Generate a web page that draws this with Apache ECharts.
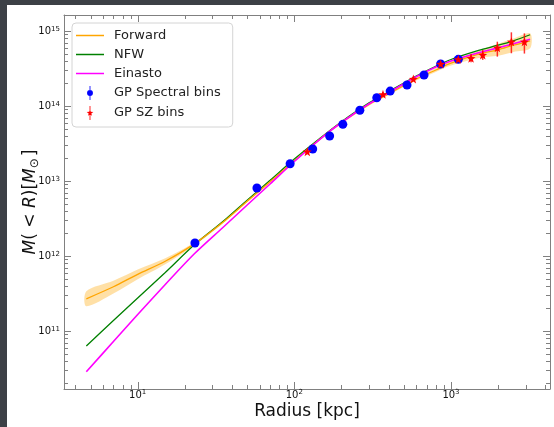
<!DOCTYPE html>
<html><head><meta charset="utf-8">
<script src="https://cdn.jsdelivr.net/npm/echarts@6/dist/echarts.min.js"></script>
<style>
html,body{margin:0;padding:0;background:#3c4046;width:554px;height:427px;overflow:hidden}
#c{position:absolute;left:7px;top:5px;width:547px;height:422px;background:#fff}
</style></head><body><div id="c"></div>
<script>
// ---- data (radius in kpc, mass in solar masses) ----
const RADII = [4.7, 7, 10, 15, 23, 35, 50, 70, 100, 150, 200, 300, 400, 600, 800, 1000, 1500, 2000, 2500, 3200];
const FORWARD = [2.69e11, 3.89e11, 5.70e11, 8.51e11, 1.45e12, 2.82e12, 5.37e12, 9.77e12, 1.86e13, 3.80e13, 6.03e13, 1.05e14, 1.45e14, 2.29e14, 3.02e14, 3.72e14, 4.90e14, 5.62e14, 6.46e14, 7.41e14];
const FORWARD_LO = [2.14e11, 3.16e11, 4.90e11, 7.76e11, 1.38e12, 2.72e12, 5.19e12, 9.44e12, 1.80e13, 3.67e13, 5.82e13, 1.01e14, 1.40e14, 2.19e14, 2.85e14, 3.47e14, 4.37e14, 4.68e14, 5.25e14, 5.89e14];
const FORWARD_HI = [3.39e11, 4.68e11, 6.61e11, 9.33e11, 1.51e12, 2.92e12, 5.56e12, 1.01e13, 1.93e13, 3.94e13, 6.24e13, 1.08e14, 1.50e14, 2.40e14, 3.20e14, 3.98e14, 5.50e14, 6.76e14, 7.94e14, 9.33e14];
const NFW = [6.31e10, 1.38e11, 2.75e11, 6.03e11, 1.41e12, 2.88e12, 5.56e12, 1.02e13, 1.96e13, 3.89e13, 6.17e13, 1.10e14, 1.55e14, 2.51e14, 3.39e14, 4.17e14, 5.50e14, 6.46e14, 7.41e14, 8.91e14];
const EINASTO = [2.86e10, 7.24e10, 1.66e11, 4.17e11, 1.07e12, 2.40e12, 4.79e12, 9.12e12, 1.82e13, 3.80e13, 6.03e13, 1.07e14, 1.51e14, 2.45e14, 3.31e14, 3.98e14, 5.13e14, 5.96e14, 6.76e14, 7.76e14];

const SPEC_R = [23.2, 57.7, 94, 131, 168, 204, 262, 336, 409, 524, 673, 859, 1114];
const SPEC_M = [1.49e12, 8.07e12, 1.70e13, 2.67e13, 3.98e13, 5.70e13, 8.77e13, 1.29e14, 1.58e14, 1.905e14, 2.59e14, 3.63e14, 4.19e14];
const SPEC_LO = [1.42e12, 7.7e12, 1.62e13, 2.55e13, 3.8e13, 5.45e13, 8.4e13, 1.23e14, 1.51e14, 1.82e14, 2.47e14, 3.46e14, 4.0e14];
const SPEC_HI = [1.56e12, 8.45e12, 1.78e13, 2.8e13, 4.17e13, 5.97e13, 9.15e13, 1.35e14, 1.65e14, 1.99e14, 2.71e14, 3.8e14, 4.39e14];

const SZ_R = [121, 368, 575, 859, 1114, 1343, 1595, 1977, 2430, 2943];
const SZ_M = [2.46e13, 1.43e14, 2.29e14, 3.63e14, 4.19e14, 4.33e14, 4.79e14, 5.99e14, 7.2e14, 7.2e14];
const SZ_LO = [2.29e13, 1.36e14, 2.18e14, 3.43e14, 3.91e14, 3.83e14, 4.12e14, 4.55e14, 5.05e14, 5.0e14];
const SZ_HI = [2.64e13, 1.51e14, 2.41e14, 3.85e14, 4.49e14, 4.89e14, 5.58e14, 7.2e14, 9.6e14, 9.3e14];

// ---- axes / ticks ----
const X_MIN = 3.385, X_MAX = 4287;
const Y_MIN = 1.686e10, Y_MAX = 1.634e15;
const X_MAJOR = [10, 100, 1000];
const X_MINOR = [4, 5, 6, 7, 8, 9, 20, 30, 40, 50, 60, 70, 80, 90, 200, 300, 400, 500, 600, 700, 800, 900, 2000, 3000, 4000];
const Y_MAJOR = [1e11, 1e12, 1e13, 1e14, 1e15];
const Y_MINOR = [2e10, 3e10, 4e10, 5e10, 6e10, 7e10, 8e10, 9e10,
  2e11, 3e11, 4e11, 5e11, 6e11, 7e11, 8e11, 9e11,
  2e12, 3e12, 4e12, 5e12, 6e12, 7e12, 8e12, 9e12,
  2e13, 3e13, 4e13, 5e13, 6e13, 7e13, 8e13, 9e13,
  2e14, 3e14, 4e14, 5e14, 6e14, 7e14, 8e14, 9e14];

const AX = '#808080';
const FONT = 'DejaVu Sans';

const STAR = 'path://M5,5 L6.176,8.382 L9.755,8.455 L6.902,10.618 L7.939,14.045 L5,12 L2.061,14.045 L3.098,10.618 L0.245,8.455 L3.824,8.382 Z';
const STAR_BAR = 'path://M5,5 L6.176,8.382 L9.755,8.455 L6.902,10.618 L7.939,14.045 L5,12 L2.061,14.045 L3.098,10.618 L0.245,8.455 L3.824,8.382 Z M4.4,0 L5.6,0 L5.6,20 L4.4,20 Z';
const CIRCLE_BAR = 'path://M0.8,10 A4.2,4.2 0 1,1 9.2,10 A4.2,4.2 0 1,1 0.8,10 Z M4.4,0 L5.6,0 L5.6,20 L4.4,20 Z';
const LINE_ICON = 'path://M0,0 L28,0 L28,1.5 L0,1.5 Z';

function powLabel(v) {
  const l = Math.log10(v), n = Math.round(l);
  if (Math.abs(l - n) > 1e-6) return '';
  return '{b|10}{s|' + n + '}';
}
const labelRich = {
  b: {fontSize: 10, fontFamily: FONT, color: '#111', lineHeight: 11, verticalAlign: 'bottom'},
  s: {fontSize: 7, fontFamily: FONT, color: '#111', lineHeight: 11, verticalAlign: 'top'}
};

const chart = echarts.init(document.getElementById('c'), null, {renderer: 'canvas'});

function xTick(params, api) {
  const cs = params.coordSys;
  const x = Math.round(api.coord([api.value(0), Y_MIN])[0]) + 0.5;
  const len = api.value(2) ? 7 : 4;
  const st = {stroke: AX, lineWidth: 1};
  return {type: 'group', children: [
    {type: 'line', shape: {x1: x, y1: cs.y + cs.height, x2: x, y2: cs.y + cs.height - len}, style: st},
    {type: 'line', shape: {x1: x, y1: cs.y, x2: x, y2: cs.y + len}, style: st}
  ]};
}
function yTick(params, api) {
  const cs = params.coordSys;
  const y = Math.round(api.coord([X_MIN, api.value(1)])[1]) + 0.5;
  const len = api.value(2) ? 7 : 4;
  const st = {stroke: AX, lineWidth: 1};
  return {type: 'group', children: [
    {type: 'line', shape: {x1: cs.x, y1: y, x2: cs.x + len, y2: y}, style: st},
    {type: 'line', shape: {x1: cs.x + cs.width, y1: y, x2: cs.x + cs.width - len, y2: y}, style: st}
  ]};
}
function errBar(color) {
  return function (params, api) {
    const p1 = api.coord([api.value(0), api.value(1)]);
    const p2 = api.coord([api.value(0), api.value(2)]);
    return {type: 'line', shape: {x1: p1[0], y1: p1[1], x2: p2[0], y2: p2[1]}, style: {stroke: color, lineWidth: 1.5}};
  };
}
function band(params, api) {
  const up = RADII.map((r, i) => api.coord([r, FORWARD_HI[i]]));
  const lo = RADII.map((r, i) => api.coord([r, FORWARD_LO[i]])).reverse();
  return {type: 'polygon', shape: {points: up.concat(lo), smooth: 0.3}, style: {fill: 'rgba(255,165,0,0.35)'}};
}

const axisCommon = {
  type: 'log', logBase: 10,
  axisLine: {show: true, lineStyle: {color: AX, width: 1}},
  axisTick: {show: false},
  splitLine: {show: false},
  minorTick: {show: false}
};

chart.setOption({
  animation: false,
  grid: {left: 57, right: 4, top: 10, bottom: 38},
  legend: {
    orient: 'vertical', left: 72 - 7, top: 23 - 5,
    padding: [6, 12, 7, 4], itemGap: 6, itemWidth: 28, itemHeight: 14,
    backgroundColor: 'rgba(255,255,255,0.9)', borderColor: '#d4d4d4', borderWidth: 1, borderRadius: 4,
    textStyle: {fontFamily: FONT, fontSize: 13, color: '#222', padding: [0, 0, 0, 5]},
    data: [
      {name: 'Forward', icon: LINE_ICON}, {name: 'NFW', icon: LINE_ICON}, {name: 'Einasto', icon: LINE_ICON},
      {name: 'GP Spectral bins', icon: CIRCLE_BAR},
      {name: 'GP SZ bins', icon: STAR_BAR}
    ]
  },
  xAxis: [
    Object.assign({}, axisCommon, {
      min: X_MIN, max: X_MAX, position: 'bottom',
      axisLabel: {formatter: powLabel, rich: labelRich, margin: 0, showMinLabel: false, showMaxLabel: false},
      name: 'Radius [kpc]', nameLocation: 'middle', nameGap: 14, nameMoveOverlap: false,
      nameTextStyle: {fontFamily: FONT, fontSize: 17, color: '#111'}
    }),
    Object.assign({}, axisCommon, {min: X_MIN, max: X_MAX, position: 'top', axisLabel: {show: false}})
  ],
  yAxis: [
    Object.assign({}, axisCommon, {
      min: Y_MIN, max: Y_MAX, position: 'left',
      axisLabel: {formatter: powLabel, rich: labelRich, margin: 4, showMinLabel: false, showMaxLabel: false},
      name: '{i|M}( < {i|R})[{i|M}{s|⊙}]', nameLocation: 'middle', nameGap: 23, nameRotate: 90, nameMoveOverlap: false,
      nameTextStyle: {fontFamily: FONT, fontSize: 17, color: '#111',
        rich: {
          i: {fontFamily: FONT, fontSize: 17, fontStyle: 'italic', color: '#111'},
          s: {fontFamily: FONT, fontSize: 12, color: '#111', verticalAlign: 'bottom', padding: [8, 2, 0, 0]}
        }}
    }),
    Object.assign({}, axisCommon, {min: Y_MIN, max: Y_MAX, position: 'right', axisLabel: {show: false}})
  ],
  series: [
    {type: 'custom', name: 'band', renderItem: band, data: [[RADII[0], FORWARD[0]]], z: 1, silent: true},
    {type: 'line', name: 'Forward', data: RADII.map((r, i) => [r, FORWARD[i]]), symbol: 'none', smooth: 0.3,
      lineStyle: {color: '#ffa500', width: 1.3}, itemStyle: {color: '#ffa500'}, z: 3},
    {type: 'line', name: 'NFW', data: RADII.map((r, i) => [r, NFW[i]]), symbol: 'none', smooth: 0.3,
      lineStyle: {color: '#008000', width: 1.3}, itemStyle: {color: '#008000'}, z: 2},
    {type: 'line', name: 'Einasto', data: RADII.map((r, i) => [r, EINASTO[i]]), symbol: 'none', smooth: 0.3,
      lineStyle: {color: '#ff00ff', width: 1.6}, itemStyle: {color: '#ff00ff'}, z: 4},
    {type: 'custom', name: 'specErr', renderItem: errBar('#0000ff'), encode: {x: 0, y: [1, 2]},
      data: SPEC_R.map((r, i) => [r, SPEC_LO[i], SPEC_HI[i]]), z: 5, silent: true},
    {type: 'scatter', name: 'GP Spectral bins', data: SPEC_R.map((r, i) => [r, SPEC_M[i]]),
      symbol: 'circle', symbolSize: 9, itemStyle: {color: '#0000ff', opacity: 1}, z: 6},
    {type: 'custom', name: 'szErr', renderItem: errBar('rgba(255,0,0,0.8)'), encode: {x: 0, y: [1, 2]},
      data: SZ_R.map((r, i) => [r, SZ_LO[i], SZ_HI[i]]), z: 7, silent: true},
    {type: 'scatter', name: 'GP SZ bins', data: SZ_R.map((r, i) => [r, SZ_M[i]]),
      symbol: STAR, symbolSize: 9, itemStyle: {color: '#ff0000', opacity: 1}, z: 8},
    {type: 'custom', name: 'xticks', renderItem: xTick, encode: {x: 0, y: 1},
      data: X_MAJOR.map(v => [v, Y_MIN, 1]).concat(X_MINOR.map(v => [v, Y_MIN, 0])), z: 10, silent: true, clip: false},
    {type: 'custom', name: 'yticks', renderItem: yTick, encode: {x: 0, y: 1},
      data: Y_MAJOR.map(v => [X_MIN, v, 1]).concat(Y_MINOR.map(v => [X_MIN, v, 0])), z: 10, silent: true, clip: false}
  ]
});
</script></body></html>
